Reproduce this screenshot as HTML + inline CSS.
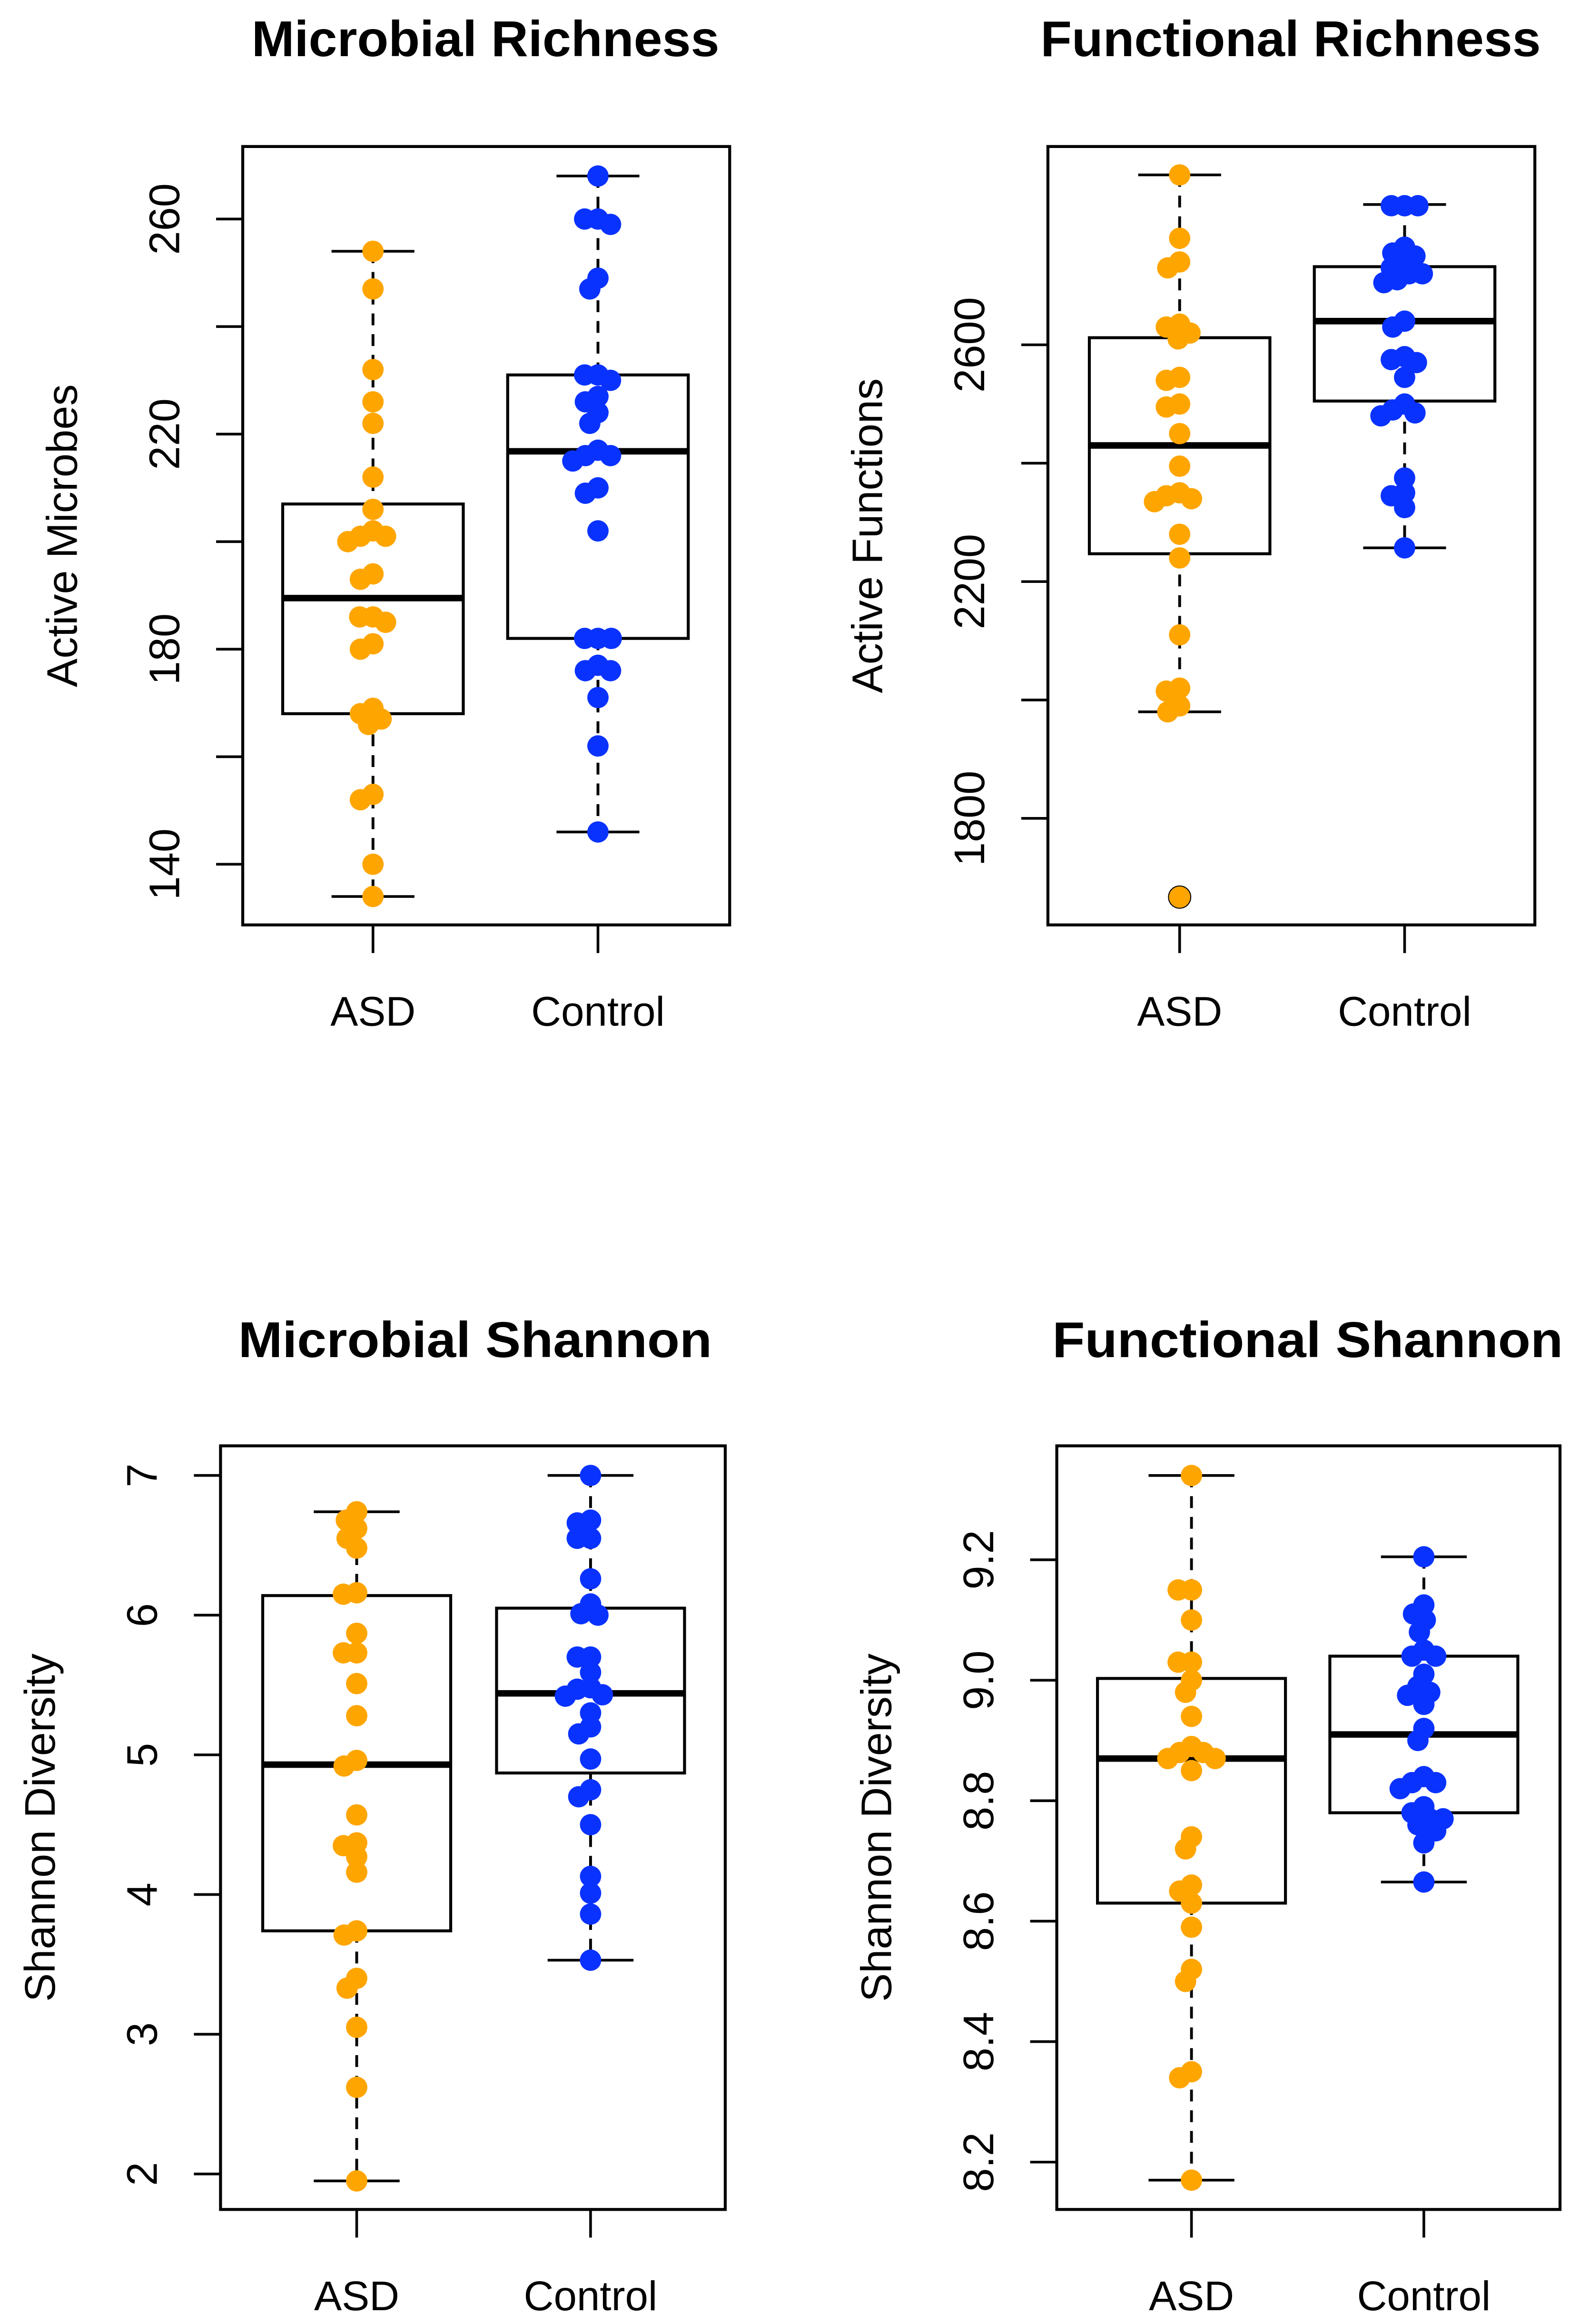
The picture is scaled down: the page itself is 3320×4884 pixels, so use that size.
<!DOCTYPE html>
<html><head><meta charset="utf-8"><style>
html,body{margin:0;padding:0;background:#fff;}
svg{display:block;}
text{font-family:"Liberation Sans",Arial,sans-serif;fill:#000;}
</style></head><body>
<svg id="chart" xmlns="http://www.w3.org/2000/svg" width="3320" height="4884" viewBox="0 0 1067.5 1570.4" preserveAspectRatio="none"></svg>
<script>
// ---- data ----
const groups = ["ASD", "Control"];
const titles = ["Microbial Richness", "Functional Richness", "Microbial Shannon", "Functional Shannon"];
const yTitles = ["Active Microbes", "Active Functions", "Shannon Diversity", "Shannon Diversity"];

const mrTicks = [140, 160, 180, 200, 220, 240, 260];
const mrLabels = ["140", "", "180", "", "220", "", "260"];
const mrAsd = [254, 247, 232, 226, 222, 212, 206, 201, 202, 200, 201, 194, 193, 186, 185, 186, 181, 180, 168, 166, 167, 169, 153, 152, 140, 134];
const mrCtl = [268, 260, 259, 260, 249, 247, 231, 231, 230, 227, 226, 224, 222, 217, 216, 215, 216, 210, 209, 202, 182, 182, 182, 177, 176, 176, 171, 162, 146];
const mrBoxAsd = [134, 168, 189.5, 207, 254];
const mrBoxCtl = [146, 182, 216.8, 231, 268];

const frTicks = [1800, 2000, 2200, 2400, 2600];
const frLabels = ["1800", "", "2200", "", "2600"];
const frAsd = [2887, 2780, 2740, 2730, 2630, 2635, 2610, 2620, 2540, 2545, 2500, 2495, 2450, 2395, 2350, 2340, 2335, 2345, 2280, 2240, 2110, 2020, 2015, 1990, 1980, 1667];
const frCtl = [2835, 2835, 2835, 2765, 2755, 2750, 2740, 2730, 2720, 2720, 2710, 2705, 2640, 2630, 2580, 2575, 2570, 2545, 2500, 2490, 2485, 2480, 2375, 2350, 2345, 2325, 2257];
const frBoxAsd = [1980, 2247, 2430, 2612, 2887];
const frBoxCtl = [2257, 2505, 2640, 2732, 2837];
const frOutAsd = [1667];

const msTicks = [2, 3, 4, 5, 6, 7];
const msLabels = ["2", "3", "4", "5", "6", "7"];
const msAsd = [6.74, 6.68, 6.62, 6.55, 6.48, 6.16, 6.15, 5.87, 5.73, 5.73, 5.51, 5.28, 4.96, 4.92, 4.57, 4.37, 4.35, 4.27, 4.16, 3.74, 3.71, 3.40, 3.33, 3.05, 2.62, 1.95];
const msCtl = [7.0, 6.68, 6.66, 6.55, 6.55, 6.26, 6.08, 6.01, 6.0, 5.70, 5.70, 5.59, 5.48, 5.47, 5.43, 5.42, 5.30, 5.20, 5.15, 4.97, 4.75, 4.70, 4.50, 4.13, 4.01, 3.86, 3.53];
const msBoxAsd = [1.95, 3.74, 4.93, 6.14, 6.74];
const msBoxCtl = [3.53, 4.87, 5.44, 6.05, 7.0];

const fsTicks = [8.2, 8.4, 8.6, 8.8, 9.0, 9.2];
const fsLabels = ["8.2", "8.4", "8.6", "8.8", "9.0", "9.2"];
const fsAsd = [9.34, 9.15, 9.15, 9.10, 9.03, 9.03, 9.00, 8.98, 8.94, 8.89, 8.88, 8.88, 8.87, 8.87, 8.85, 8.74, 8.72, 8.66, 8.65, 8.63, 8.59, 8.52, 8.50, 8.35, 8.34, 8.17];
const fsCtl = [9.205, 9.125, 9.11, 9.10, 9.08, 9.05, 9.04, 9.04, 9.01, 8.99, 8.98, 8.975, 8.96, 8.92, 8.90, 8.84, 8.83, 8.83, 8.82, 8.79, 8.78, 8.77, 8.77, 8.76, 8.75, 8.73, 8.665];
const fsBoxAsd = [8.17, 8.63, 8.87, 9.003, 9.34];
const fsBoxCtl = [8.665, 8.78, 8.91, 9.04, 9.205];

// ---- layout (preview units) ----
const panels = [
  {name:"microbial-richness", fx0:164, fx1:493, fy0:99, fy1:625, v0:260, p0:148, v1:140, p1:584, gx:[252,404], bw:61, cap:28,
   titleX:170, titleW:316, titleY:38, ticks:mrTicks, labels:mrLabels, series:[mrAsd, mrCtl], boxes:[mrBoxAsd, mrBoxCtl], out:[[],[]], xlabY:693},
  {name:"functional-richness", fx0:708, fx1:1037, fy0:99, fy1:625, v0:2600, p0:233, v1:1800, p1:553, gx:[797,949], bw:61, cap:28,
   titleX:703, titleW:338, titleY:38, ticks:frTicks, labels:frLabels, series:[frAsd, frCtl], boxes:[frBoxAsd, frBoxCtl], out:[frOutAsd,[]], xlabY:693},
  {name:"microbial-shannon", fx0:149, fx1:490, fy0:977, fy1:1493, v0:7, p0:997, v1:2, p1:1469, gx:[241,399], bw:63.5, cap:29,
   titleX:161, titleW:320, titleY:917, ticks:msTicks, labels:msLabels, series:[msAsd, msCtl], boxes:[msBoxAsd, msBoxCtl], out:[[],[]], xlabY:1561},
  {name:"functional-shannon", fx0:714, fx1:1054, fy0:977, fy1:1493, v0:9.2, p0:1054, v1:8.2, p1:1461, gx:[805,962], bw:63.5, cap:29,
   titleX:711, titleW:345, titleY:917, ticks:fsTicks, labels:fsLabels, series:[fsAsd, fsCtl], boxes:[fsBoxAsd, fsBoxCtl], out:[[],[]], xlabY:1561}
];
const colors = ["#FFA500", "#0A32FF"];
const R = 7.2;

const NS = "http://www.w3.org/2000/svg";
const svg = document.getElementById("chart");
function mk(tag, attrs, parent){
  const e = document.createElementNS(NS, tag);
  for (const k in attrs) e.setAttribute(k, attrs[k]);
  (parent||svg).appendChild(e);
  return e;
}
function swarm(ys, cx){
  const idx = ys.map((y,i)=>i).sort((a,b)=>ys[a]-ys[b]);
  const placed = [], xs = new Array(ys.length);
  const d = 2*R*0.62;
  idx.forEach(i=>{
    const y = ys[i];
    let best = 0;
    for (let s=0; s<200; s++){
      const off = (s%2===0 ? 1 : -1) * Math.ceil(s/2) * 0.5;
      const x = cx + off;
      if (placed.every(p => (p[0]-x)**2 + (p[1]-y)**2 >= d*d)) { best = off; break; }
    }
    xs[i] = cx + best;
    placed.push([cx+best, y]);
  });
  return xs;
}

panels.forEach((P, pi)=>{
  const g = mk("g", {});
  
  
  const yS = v => P.p0 + (v - P.v0) * (P.p1 - P.p0) / (P.v1 - P.v0);

  const t = mk("text", {x:P.titleX, y:P.titleY, "font-size":34, "font-weight":"bold", textLength:P.titleW, lengthAdjust:"spacingAndGlyphs"}, g);
  t.textContent = titles[pi];
  
  

  const yl = mk("text", {x:0, y:0, "font-size":29, "text-anchor":"middle", transform:`translate(${P.fx0-112},${(P.fy0+P.fy1)/2}) rotate(-90)`}, g);
  yl.textContent = yTitles[pi];
  
  

  P.ticks.forEach((v, k)=>{
    const y = yS(v);
    const tk = mk("line", {x1:P.fx0-18, x2:P.fx0, y1:y, y2:y, stroke:"#000", "stroke-width":1.8}, g);
    
    
    if (P.labels[k]) {
      const tl = mk("text", {x:0, y:0, "font-size":29, "text-anchor":"middle", transform:`translate(${P.fx0-43},${y}) rotate(-90)`}, g);
      tl.textContent = P.labels[k];
      
      
    }
  });

  groups.forEach((gn, gi)=>{
    const cx = P.gx[gi];
    const b = P.boxes[gi];
    const xt = mk("line", {x1:cx, x2:cx, y1:P.fy1, y2:P.fy1+19, stroke:"#000", "stroke-width":1.8}, g);
    
    
    const xl = mk("text", {x:cx, y:P.xlabY, "font-size":28, "text-anchor":"middle"}, g);
    xl.textContent = gn;
    
    

    const wl = mk("line", {x1:cx, x2:cx, y1:yS(b[4]), y2:yS(b[3]), stroke:"#000", "stroke-width":1.9, "stroke-dasharray":"8,6"}, g);
    
    
    const wl2 = mk("line", {x1:cx, x2:cx, y1:yS(b[1]), y2:yS(b[0]), stroke:"#000", "stroke-width":1.9, "stroke-dasharray":"8,6"}, g);
    
    
    [b[0], b[4]].forEach(v=>{
      const c = mk("line", {x1:cx-P.cap, x2:cx+P.cap, y1:yS(v), y2:yS(v), stroke:"#000", "stroke-width":1.8}, g);
      
      
    });
    const bx = mk("rect", {x:cx-P.bw, y:yS(b[3]), width:2*P.bw, height:yS(b[1])-yS(b[3]), fill:"none", stroke:"#000", "stroke-width":2}, g);
    
    
    const md = mk("line", {x1:cx-P.bw, x2:cx+P.bw, y1:yS(b[2]), y2:yS(b[2]), stroke:"#000", "stroke-width":4.4}, g);
    
    

    P.out[gi].forEach(v=>{
      const o = mk("circle", {cx:cx, cy:yS(v), r:R, fill:"none", stroke:"#000", "stroke-width":1.3}, g);
      
      
    });
    const ys = P.series[gi].map(yS);
    const xs = swarm(ys, cx);
    ys.forEach((y, i)=>{
      const c = mk("circle", {cx:xs[i], cy:y, r:R, fill:colors[gi]}, g);
      
      
    });
  });

  const fr = mk("rect", {x:P.fx0, y:P.fy0, width:P.fx1-P.fx0, height:P.fy1-P.fy0, fill:"none", stroke:"#000", "stroke-width":2}, g);
  
  
});
</script>
</body></html>
